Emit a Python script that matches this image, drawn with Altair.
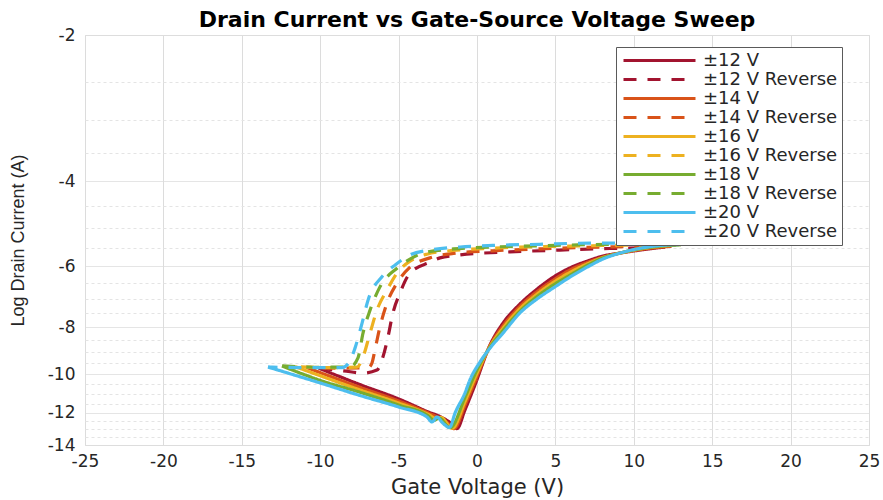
import altair as alt
import pandas as pd

# ---- legend / series definitions ----
labels = ["±12 V", "±12 V Reverse", "±14 V", "±14 V Reverse", "±16 V",
          "±16 V Reverse", "±18 V", "±18 V Reverse", "±20 V", "±20 V Reverse"]
colors = ["#A2142F", "#A2142F", "#D95319", "#D95319", "#EDB120",
          "#EDB120", "#77AC30", "#77AC30", "#4DBEEE", "#4DBEEE"]
dashes = [[1, 0], [13, 11], [1, 0], [13, 11], [1, 0],
          [13, 11], [1, 0], [13, 11], [1, 0], [13, 11]]

# ---- forward sweeps (solid) ----
fwd12_x = [-10.1, -7.46, -5.0, -3.1, -2.3, -1.7, -1.28, -0.77, -0.13, 0.83, 1.66, 2.74, 3.83,
           4.97, 5.93, 7.02, 8.04, 9.12, 10.4, 12.0]
fwd12_y = [-9.72, -10.51, -11.25, -11.97, -12.26, -12.6, -12.95, -11.86, -10.53, -8.71, -7.85, -7.17, -6.68,
           -6.28, -6.04, -5.85, -5.71, -5.63, -5.55, -5.47]

fwd14_x = [-10.9, -7.46, -5.0, -3.1, -2.4, -1.9, -1.47, -0.77, -0.13, 0.83, 1.66, 2.74, 3.83,
           4.97, 5.93, 7.02, 8.04, 9.12, 10.3, 12.4]
fwd14_y = [-9.68, -10.65, -11.36, -12.03, -12.32, -12.6, -12.95, -11.6, -10.35, -8.74, -7.95, -7.25, -6.76,
           -6.37, -6.10, -5.89, -5.74, -5.63, -5.54, -5.45]

fwd16_x = [-11.6, -7.46, -5.0, -3.1, -2.6, -2.3, -1.58, -0.77, -0.13, 0.83, 1.66, 2.74, 3.83,
           4.97, 5.93, 7.02, 8.04, 9.12, 10.3, 11.3, 12.7]
fwd16_y = [-9.65, -10.78, -11.47, -12.11, -12.35, -12.28, -12.93, -11.4, -10.18, -8.77, -8.04, -7.33, -6.84,
           -6.44, -6.17, -5.93, -5.75, -5.63, -5.53, -5.47, -5.42]

fwd18_x = [-12.44, -10.0, -7.46, -5.0, -3.1, -2.74, -2.42, -1.72, -0.77, -0.13, 0.83, 1.66, 2.74, 3.83,
           4.97, 5.93, 7.02, 8.04, 9.12, 10.2, 11.4, 13.0]
fwd18_y = [-9.62, -10.3, -10.9, -11.58, -12.2, -12.45, -12.32, -12.9, -11.17, -10.0, -8.8, -8.13, -7.42, -6.92,
           -6.52, -6.25, -5.97, -5.76, -5.63, -5.53, -5.46, -5.41]

fwd20_x = [-13.33, -10.0, -7.46, -5.0, -3.19, -2.87, -2.55, -2.2, -1.75, -1.40, -0.77, -0.45, 0.19, 0.83,
           1.66, 2.74, 3.83, 4.97, 5.93, 7.02, 8.04, 9.12, 10.2, 11.48, 13.39]
fwd20_y = [-9.67, -10.43, -11.07, -11.69, -12.26, -12.55, -12.26, -12.6, -12.88, -12.03, -10.94, -10.28, -9.44, -8.84,
           -8.23, -7.48, -7.00, -6.61, -6.31, -6.02, -5.79, -5.63, -5.52, -5.44, -5.40]

# ---- reverse sweeps (dashed) ----
rev12_x = [12.0, 10.84, 8.48, 5.29, 2.1, -1.08, -2.36, -3.0, -4.27, -4.91, -5.36, -5.68, -6.0, -6.38, -7.27, -8.5, -10.1]
rev12_y = [-5.47, -5.49, -5.51, -5.55, -5.60, -5.68, -5.76, -5.88, -6.19, -6.80, -7.48, -8.39, -9.22, -9.81, -9.95, -9.85, -9.72]

rev14_x = [12.4, 10.0, 7.0, 4.0, 1.0, -1.5, -3.0, -4.27, -5.10, -5.74, -6.19, -6.51, -6.70, -6.95, -8.5, -10.9]
rev14_y = [-5.45, -5.46, -5.48, -5.52, -5.57, -5.64, -5.76, -6.02, -6.49, -7.14, -8.0, -8.92, -9.49, -9.70, -9.72, -9.68]

rev16_x = [12.7, 10.0, 7.0, 4.0, 1.0, -1.5, -3.2, -4.27, -5.10, -5.74, -6.38, -6.82, -7.27, -7.65, -9.5, -11.6]
rev16_y = [-5.42, -5.42, -5.44, -5.46, -5.50, -5.56, -5.66, -5.85, -6.19, -6.71, -7.38, -8.23, -9.22, -9.67, -9.70, -9.65]

rev18_x = [13.0, 10.0, 7.0, 4.0, 1.0, -1.5, -3.44, -4.3, -5.10, -6.19, -6.82, -7.27, -7.59, -8.1, -10.0, -12.44]
rev18_y = [-5.41, -5.40, -5.41, -5.44, -5.47, -5.52, -5.63, -5.80, -6.05, -6.61, -7.38, -8.23, -9.26, -9.67, -9.68, -9.62]

rev20_x = [13.39, 10.4, 7.4, 4.0, 1.0, -1.08, -3.0, -4.27, -5.2, -6.06, -6.95, -7.33, -7.78, -8.1, -8.6, -10.5, -13.33]
rev20_y = [-5.40, -5.38, -5.37, -5.40, -5.43, -5.47, -5.55, -5.68, -5.95, -6.30, -7.04, -7.85, -8.84, -9.4, -9.7, -9.70, -9.67]

x_ticks = [-25, -20, -15, -10, -5, 0, 5, 10, 15, 20, 25]
y_ticks = [-14, -13.5, -13, -12.5, -12, -11.5, -11, -10.5, -10, -9.5, -9, -8.5, -8,
           -7.5, -7, -6.5, -6, -5.5, -5, -4.5, -4, -3.5, -3, -2.5, -2]

series_x = [fwd12_x, rev12_x, fwd14_x, rev14_x, fwd16_x, rev16_x, fwd18_x, rev18_x, fwd20_x, rev20_x]
series_y = [fwd12_y, rev12_y, fwd14_y, rev14_y, fwd16_y, rev16_y, fwd18_y, rev18_y, fwd20_y, rev20_y]

rows = []
for lab, xs, ys in zip(labels, series_x, series_y):
    for i, (xv, yv) in enumerate(zip(xs, ys)):
        rows.append({"series": lab, "x": xv, "y": yv, "i": i})
df = pd.DataFrame(rows)

legend = alt.Legend(
    title=None, orient="none", legendX=531, legendY=12,
    padding=4, symbolOffset=2, fillColor="white", strokeColor="#5a5a5a",
    symbolType="stroke", symbolSize=5184, symbolStrokeWidth=3,
    labelFont="DejaVu Sans", labelFontSize=18, labelColor="#262626",
    labelOffset=6, clipHeight=19, rowPadding=0, labelLimit=300,
)

chart = alt.Chart(df).mark_line(strokeWidth=3.2, interpolate="monotone", clip=True).encode(
    x=alt.X("x:Q",
            scale=alt.Scale(domain=[-25, 25], nice=False, zero=False),
            axis=alt.Axis(values=x_ticks, labelExpr="'' + datum.value",
                          ticks=False, domain=False, grid=True,
                          gridColor="#dcdcdc", gridWidth=1,
                          labelFont="DejaVu Sans", labelFontSize=17,
                          labelColor="#262626", labelPadding=8, labelFlush=False,
                          labelOverlap=False,
                          titleFont="DejaVu Sans", titleFontSize=21,
                          titleFontWeight="normal", titleColor="#262626",
                          titlePadding=7),
            title="Gate Voltage (V)"),
    y=alt.Y("y:Q",
            scale=alt.Scale(type="log", domain=[-14, -2], nice=False),
            axis=alt.Axis(values=y_ticks,
                          labelExpr="datum.value % 2 == 0 ? '' + datum.value : ''",
                          ticks=False, domain=False, grid=True,
                          gridColor={"condition": {"test": "datum.value % 2 == 0", "value": "#dcdcdc"},
                                     "value": "#e4e4e4"},
                          gridDash={"condition": {"test": "datum.value % 2 == 0", "value": [1, 0]},
                                    "value": [3, 3]},
                          labelFont="DejaVu Sans", labelFontSize=17,
                          labelColor="#262626", labelPadding=10, labelOverlap=False,
                          titleFont="Liberation Sans", titleFontSize=18,
                          titleFontWeight="normal", titleColor="#262626",
                          titlePadding=20),
            title="Log Drain Current (A)"),
    color=alt.Color("series:N", scale=alt.Scale(domain=labels, range=colors), legend=legend),
    strokeDash=alt.StrokeDash("series:N", scale=alt.Scale(domain=labels, range=dashes), legend=legend),
    order=alt.Order("i:Q"),
).properties(
    width=784, height=410,
    title=alt.Title("Drain Current vs Gate-Source Voltage Sweep", font="DejaVu Sans",
                    fontSize=22, fontWeight="bold", anchor="middle",
                    offset=3, dy=9, color="#000000"),
    padding={"left": 85, "top": 35, "right": 14, "bottom": 55},
    autosize=alt.AutoSizeParams(type="none"),
).configure_view(stroke="#3a3a3a", strokeWidth=1).configure(background="white")

chart.save("out.html", embed_options={"renderer": "svg", "actions": False})
